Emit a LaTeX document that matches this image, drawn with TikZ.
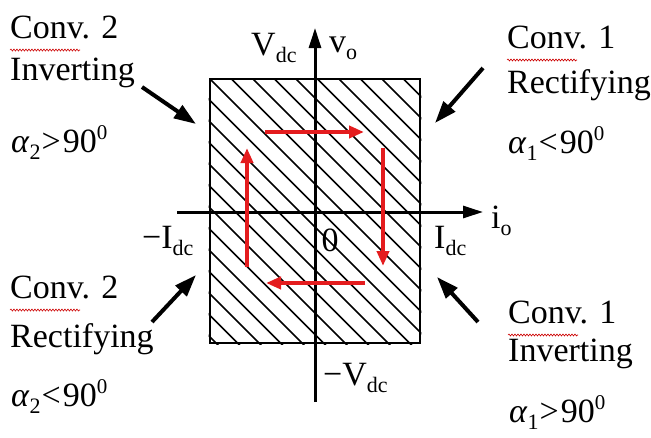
\documentclass[tikz,border=0pt]{standalone}
\usepackage{fontspec}
\setmainfont{Liberation Serif}
\usetikzlibrary{arrows.meta,decorations.pathmorphing}
\newcommand{\dnidx}[1]{\raisebox{-7pt}{\fontsize{22}{22}\selectfont #1}}
\newcommand{\upidx}[1]{\raisebox{13pt}{\fontsize{21}{21}\selectfont #1}}
\definecolor{arrred}{RGB}{228,28,30}
\begin{document}
\begin{tikzpicture}[x=1pt,y=-1pt,
  lbl/.style={inner sep=0pt,anchor=base west,font=\fontsize{34}{40}\selectfont},
  axis/.style={line width=3pt,-{Triangle[length=20pt,width=12pt]}},
  hatch/.style={line width=1.5pt},
  cyc/.style={arrred,line width=4.5pt,-{Triangle[length=15pt,width=12pt]}},
  pointer/.style={line width=4pt,-{Triangle[length=22pt,width=15pt]}},
  squig/.style={red!80!black,line width=0.6pt,decorate,decoration={snake,amplitude=1pt,segment length=3pt}}]
\useasboundingbox (0,0) rectangle (651,437);
% box
\node[draw,line width=2.8pt,minimum width=210pt,minimum height=264pt,inner sep=0pt] (box) at (315,211) {};
\begin{scope}
  \clip (box.south west) rectangle (box.north east);
  \foreach \i in {-14,...,11}
    \draw[hatch] (210+\i*21.5,79) -- ++(280,280);
\end{scope}
\node[draw,line width=2.8pt,minimum width=210pt,minimum height=264pt,inner sep=0pt] at (315,211) {};
% axes
\coordinate (ytop) at (315,28);
\coordinate (ybot) at (315,402);
\coordinate (xl) at (177,212);
\coordinate (xr) at (483,212);
\draw[axis] (ybot) -- (ytop);
\draw[axis] (xl) -- (xr);
% red cycle
\coordinate (t1) at (265,132); \coordinate (t2) at (364,132);
\coordinate (r1) at (383,148); \coordinate (r2) at (383,266);
\coordinate (b1) at (365,283); \coordinate (b2) at (266,283);
\coordinate (l1) at (247,267); \coordinate (l2) at (247,148);
\draw[cyc] (t1) -- (t2);
\draw[cyc] (r1) -- (r2);
\draw[cyc] (b1) -- (b2);
\draw[cyc] (l1) -- (l2);
% axis labels
\node[lbl] (vdc) at (251,55) {V\dnidx{dc}};
\node[lbl] (vo) at (329,52) {v\dnidx{o}};
\node[lbl] (io) at (491,228) {i\dnidx{o}};
\node[lbl] (midc) at (142,248) {−I\dnidx{dc}};
\node[lbl] (idc) at (434,248) {I\dnidx{dc}};
\node[lbl] (mvdc) at (323,385) {−V\dnidx{dc}};
\node[lbl,anchor=base] (zero) at (330,251) {0};
% top-left
\node[lbl] (tl1) at (10,38) {Conv. 2};
\node[lbl] (tl2) at (10,80) {Inverting};
\node[lbl] (tl3) at (11,152) {\textit{α}\dnidx{2}\kern1pt>\kern2pt90\upidx{0}};
% top-right
\node[lbl] (tr1) at (507,48) {Conv. 1};
\node[lbl] (tr2) at (507,93) {Rectifying};
\node[lbl] (tr3) at (508,153) {\textit{α}\dnidx{1}\kern1pt<\kern2pt90\upidx{0}};
% bottom-left
\node[lbl] (bl1) at (10,298) {Conv. 2};
\node[lbl] (bl2) at (10,347) {Rectifying};
\node[lbl] (bl3) at (11,406) {\textit{α}\dnidx{2}\kern1pt<\kern2pt90\upidx{0}};
% bottom-right
\node[lbl] (br1) at (508,323) {Conv. 1};
\node[lbl] (br2) at (508,361) {Inverting};
\node[lbl] (br3) at (509,422) {\textit{α}\dnidx{1}\kern1pt>\kern2pt90\upidx{0}};
% spell-check squiggles
\draw[squig] ([yshift=-12pt]tl1.base west) -- ++(70,0);
\draw[squig] ([yshift=-12pt]tr1.base west) -- ++(70,0);
\draw[squig] ([yshift=-12pt]bl1.base west) -- ++(70,0);
\draw[squig] ([yshift=-12pt]br1.base west) -- ++(70,0);
% pointer arrows
\coordinate (p1s) at (142,87); \coordinate (p1e) at (196,124);
\coordinate (p2s) at (483,68); \coordinate (p2e) at (435,123);
\coordinate (p3s) at (152,322); \coordinate (p3e) at (196,275);
\coordinate (p4s) at (478,322); \coordinate (p4e) at (437,277);
\draw[pointer] (p1s) -- (p1e);
\draw[pointer] (p2s) -- (p2e);
\draw[pointer] (p3s) -- (p3e);
\draw[pointer] (p4s) -- (p4e);
\end{tikzpicture}
\end{document}
